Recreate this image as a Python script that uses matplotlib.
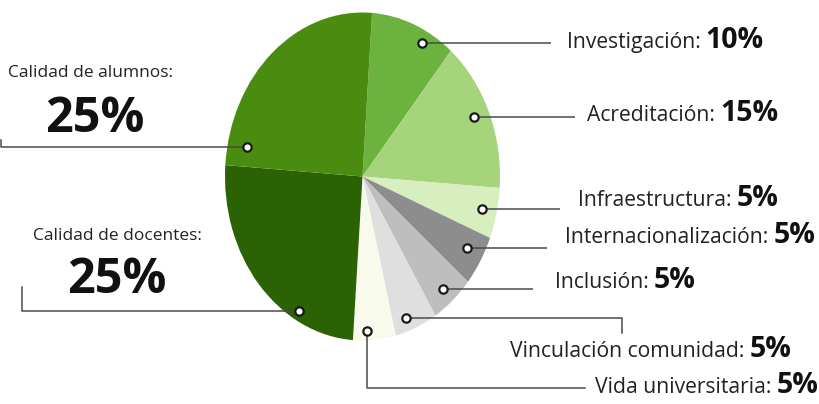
import matplotlib
matplotlib.use('Agg')
import matplotlib.pyplot as plt
import numpy as np
from matplotlib.transforms import Affine2D

plt.rcParams['font.family'] = ['Open Sans', 'DejaVu Sans']

# data
labels = ['Investigación', 'Acreditación', 'Infraestructura', 'Internacionalización',
          'Inclusión', 'Vinculación comunidad', 'Vida universitaria',
          'Calidad de docentes', 'Calidad de alumnos']
values = [10, 15, 5, 5, 5, 5, 5, 25, 25]
colors = ['#6cb23e', '#a6d47a', '#d7eebf', '#8d8d8d', '#bebebe', '#dfdfdf',
          '#f8faeb', '#2b6204', '#4a8c10']

# layout (image pixels, y down)
cx, cy, rx, ry = 362.5, 176.5, 137.5, 164
dot_frac = [0.33, 0.52, 0.5, 0.56, 0.47, 0.35, 0.33, 0.72, 0.91]
dot_r = [0.92, 0.89, 0.89, 0.88, 0.90, 0.92, 0.945, 0.94, 0.86]

fig = plt.figure(figsize=(8.2, 4.04), dpi=100)
ax = fig.add_axes([0, 0, 1, 1])

wedges, _ = ax.pie(values, colors=colors, startangle=86, counterclock=False,
                   wedgeprops=dict(linewidth=0))
tr = Affine2D().scale(rx, -ry).translate(cx, cy) + ax.transData
for w in wedges:
    w.set_transform(tr)
ax.set_aspect('auto')
ax.set_xlim(0, 820)
ax.set_ylim(404, 0)
ax.axis('off')

# dot positions from wedge angles
dots = []
for w, f, r in zip(wedges, dot_frac, dot_r):
    a = np.deg2rad(w.theta1 + f * (w.theta2 - w.theta1))
    dots.append((cx + rx * r * np.cos(a), cy - ry * r * np.sin(a)))

lc = '#4a4a4a'
lw = 1.1

# right side leaders: (line end x, text x, text baseline y)
right = {
    0: (551, 567, 48),
    1: (575, 587, 121),
    2: (560, 578, 206),
    3: (547, 565, 243),
    4: (533, 555, 288),
}
renderer = fig.canvas.get_renderer()


def two_part(x, y, name, pct, size=15.2, bsize=20.5):
    t = ax.text(x, y, name + ':', fontsize=size, color='#222222', va='baseline', ha='left')
    bb = t.get_window_extent(renderer)
    x1 = ax.transData.inverted().transform((bb.x1, bb.y0))[0]
    ax.text(x1 + 5, y, f'{pct}%', fontsize=bsize, fontweight='bold', color='#111111',
            va='baseline', ha='left')


for i, (xe, tx, ty) in right.items():
    mx, my = dots[i]
    ax.plot([mx, xe], [my, my], color=lc, lw=lw, solid_capstyle='butt')
    two_part(tx, ty, labels[i], values[i])

# Vinculación comunidad
mx, my = dots[5]
ax.plot([mx, 622, 622], [my, my, 333], color=lc, lw=lw)
two_part(510, 357, labels[5], values[5])

# Vida universitaria
mx, my = dots[6]
ax.plot([mx, mx, 585], [my, 388, 388], color=lc, lw=lw)
two_part(595, 393, labels[6], values[6])

# Calidad de docentes
mx, my = dots[7]
ax.plot([mx, 22, 22], [my, my, 287], color=lc, lw=lw)
ax.text(117, 240, labels[7] + ':', fontsize=12.5, color='#222222', ha='center', va='baseline')
ax.text(117, 293, f'{values[7]}%', fontsize=35, fontweight='bold', color='#111111',
        ha='center', va='baseline')

# Calidad de alumnos
mx, my = dots[8]
ax.plot([mx, 1, 1], [my, my, 140], color=lc, lw=lw)
ax.text(91, 77, labels[8] + ':', fontsize=12.5, color='#222222', ha='center', va='baseline')
ax.text(95, 132, f'{values[8]}%', fontsize=35, fontweight='bold', color='#111111',
        ha='center', va='baseline')

# dots on top
for mx, my in dots:
    ax.plot(mx, my, 'o', ms=6, mfc='white', mec='#1a1a1a', mew=1.6, zorder=5)

fig.savefig('out.png', dpi=100, facecolor='white')
